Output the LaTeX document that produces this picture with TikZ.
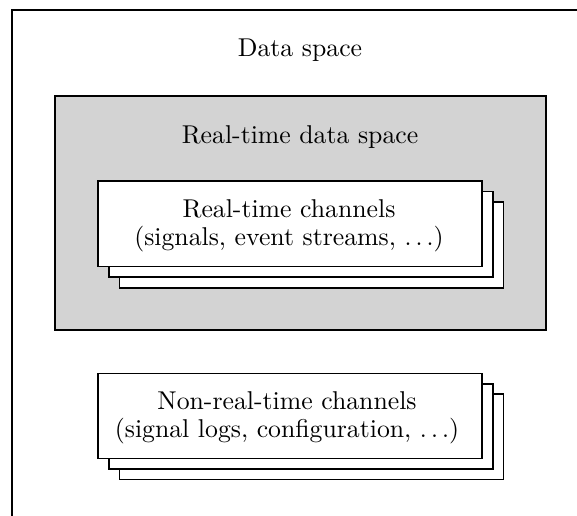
\documentclass[tikz,border=0pt]{standalone}
\definecolor{spacegray}{RGB}{211,211,211}
\tikzset{
  panel/.style={draw, fill=white, line width=0.45pt, inner sep=0pt},
  label/.style={align=center, font=\fontsize{10.3}{11}\selectfont, inner sep=0pt}
}
\begin{document}
\begin{tikzpicture}[x=0.4pt,y=-0.4pt]
  \useasboundingbox (0,0) rectangle (577,515);
  \clip (0,0) rectangle (577,515);
  % outer data space
  \draw[line width=0.45pt] (12,560) -- (12,10) -- (620,10);
  \node[label] (ds) at (300,50) {Data space};
  % real-time data space
  \draw[fill=spacegray, line width=0.45pt] (55,96) rectangle (546,330);
  \node[label] (rtds) at (300,137) {Real-time data space};
  % real-time channels (stacked)
  \draw[panel] (119.5,202) rectangle (503.5,288);
  \draw[panel] (109,191.5) rectangle (493,277);
  \draw[panel] (98,181) rectangle (482,266.5);
  \node[label] (rtc) at (289,226) {Real-time channels\\(signals, event streams, $\ldots$)};
  % non-real-time channels (stacked)
  \draw[panel] (119.5,394) rectangle (503.5,479.5);
  \draw[panel] (109,384) rectangle (493,469);
  \draw[panel] (98,373.5) rectangle (482,458.5);
  \node[label] (nrtc) at (287,418) {Non-real-time channels\\(signal logs, configuration, $\ldots$)};
\end{tikzpicture}
\end{document}
